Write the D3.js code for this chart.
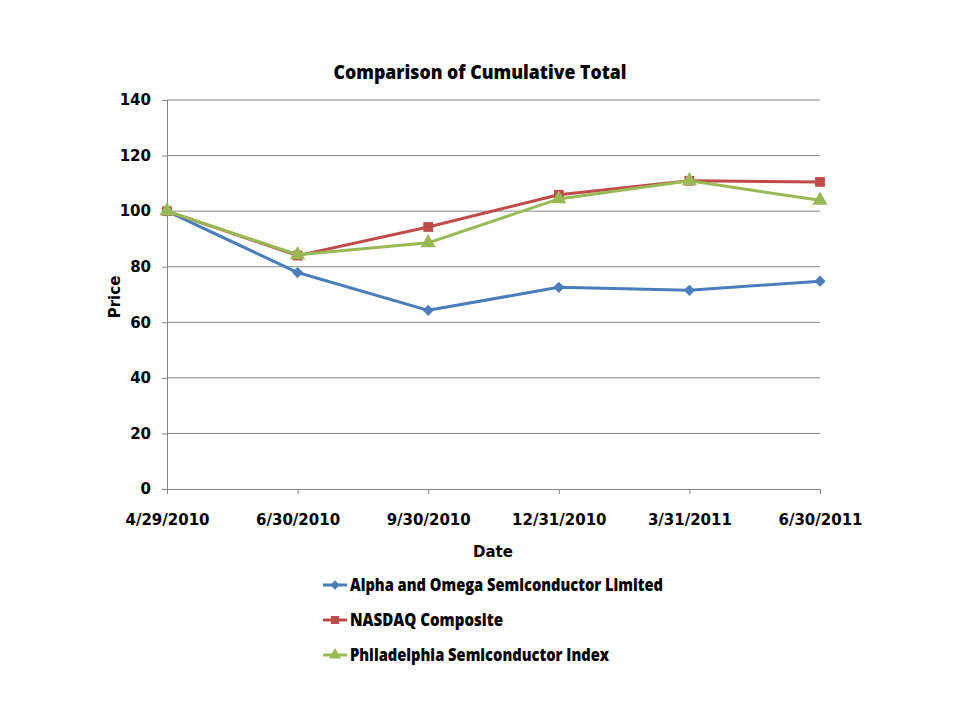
<!DOCTYPE html>
<html>
<head>
<meta charset="utf-8">
<script src="https://cdn.jsdelivr.net/npm/d3@7"></script>
<style>
  body { margin: 0; background: #fff; }
  svg text { fill: #000; }
</style>
</head>
<body>
<div id="chart"></div>
<script>
// data
const dates = ["4/29/2010", "6/30/2010", "9/30/2010", "12/31/2010", "3/31/2011", "6/30/2011"];
const alphaOmega = [100, 77.9, 64.3, 72.6, 71.5, 74.8];
const nasdaq = [100, 84.0, 94.3, 105.9, 110.9, 110.5];
const philly = [100, 84.3, 88.6, 104.4, 110.9, 103.9];
const yTicks = [0, 20, 40, 60, 80, 100, 120, 140];

const seriesNames = ["Alpha and Omega Semiconductor Limited", "NASDAQ Composite", "Philadelphia Semiconductor Index"];
const seriesValues = [alphaOmega, nasdaq, philly];
const colors = ["#4a7ebb", "#be4b48", "#98b954"];
const shapes = [d3.symbolDiamond2, d3.symbolSquare, d3.symbolTriangle];

const width = 960, height = 720;
const margin = { top: 100, right: 140, bottom: 231, left: 167 };

const svg = d3.select("#chart").append("svg")
    .attr("width", width)
    .attr("height", height);

const x = d3.scalePoint()
    .domain(dates)
    .range([margin.left, width - margin.right]);

const y = d3.scaleLinear()
    .domain([0, 140])
    .range([height - margin.bottom, margin.top]);

// gridlines
svg.append("g")
    .selectAll("line")
    .data(yTicks.filter(d => d > 0))
    .join("line")
    .attr("x1", margin.left)
    .attr("x2", width - margin.right)
    .attr("y1", d => y(d))
    .attr("y2", d => y(d))
    .attr("stroke", "#868686")
    .attr("stroke-width", 1);

// y axis
const yAxis = svg.append("g")
    .attr("transform", `translate(${margin.left},0)`)
    .call(d3.axisLeft(y).tickValues(yTicks).tickSize(5).tickPadding(11));

// x axis
const xAxis = svg.append("g")
    .attr("transform", `translate(0,${y(0)})`)
    .call(d3.axisBottom(x).tickSize(5).tickPadding(20).tickSizeOuter(0));

[xAxis, yAxis].forEach(ax => {
    ax.selectAll("path, line").attr("stroke", "#868686");
    ax.selectAll("text")
        .attr("fill", "#000")
        .style("font-family", "'DejaVu Sans', sans-serif")
        .style("font-weight", "bold")
        .style("font-size", "15px");
});
xAxis.select(".domain").attr("d", `M${margin.left},0.5H${width - margin.right}`);

// lines + markers
const line = d3.line()
    .x((d, i) => x(dates[i]))
    .y(d => y(d));

seriesValues.forEach((vals, s) => {
    svg.append("path")
        .datum(vals)
        .attr("fill", "none")
        .attr("stroke", colors[s])
        .attr("stroke-width", 3)
        .attr("stroke-linejoin", "round")
        .attr("d", line);

    svg.append("g")
        .selectAll("path")
        .data(vals)
        .join("path")
        .attr("transform", (d, i) => `translate(${x(dates[i])},${y(d)})`)
        .attr("d", d3.symbol().type(shapes[s]).size(s === 0 ? 80 : s === 1 ? 95 : 100))
        .attr("fill", colors[s]);
});

// title
svg.append("text")
    .attr("x", 480)
    .attr("y", 79)
    .attr("text-anchor", "middle")
    .style("font-family", "'Open Sans', sans-serif")
    .style("font-weight", "800")
    .style("font-size", "19px")
    .attr("textLength", 293)
    .attr("lengthAdjust", "spacingAndGlyphs")
    .text("Comparison of Cumulative Total");

// axis titles
svg.append("text")
    .attr("x", 493)
    .attr("y", 557)
    .attr("text-anchor", "middle")
    .style("font-family", "'DejaVu Sans', sans-serif")
    .style("font-weight", "bold")
    .style("font-size", "15px")
    .text("Date");

svg.append("text")
    .attr("transform", "translate(120,297) rotate(-90)")
    .attr("text-anchor", "middle")
    .style("font-family", "'DejaVu Sans', sans-serif")
    .style("font-weight", "bold")
    .style("font-size", "15px")
    .text("Price");

// legend
const legendWidths = [313, 153, 259];

const legend = svg.append("g")
    .selectAll("g")
    .data(seriesNames)
    .join("g")
    .attr("transform", (d, i) => `translate(323,${585 + i * 35})`);

legend.append("line")
    .attr("x1", 0).attr("x2", 24)
    .attr("stroke", (d, i) => colors[i])
    .attr("stroke-width", 3);

legend.append("path")
    .attr("transform", "translate(12,0)")
    .attr("d", (d, i) => d3.symbol().type(shapes[i]).size(i === 0 ? 55 : 65)())
    .attr("fill", (d, i) => colors[i]);

legend.append("text")
    .attr("x", 27)
    .attr("dy", "0.35em")
    .style("font-family", "'Open Sans', sans-serif")
    .style("font-weight", "800")
    .style("font-size", "17px")
    .attr("textLength", (d, i) => legendWidths[i])
    .attr("lengthAdjust", "spacingAndGlyphs")
    .text(d => d);
</script>
</body>
</html>
